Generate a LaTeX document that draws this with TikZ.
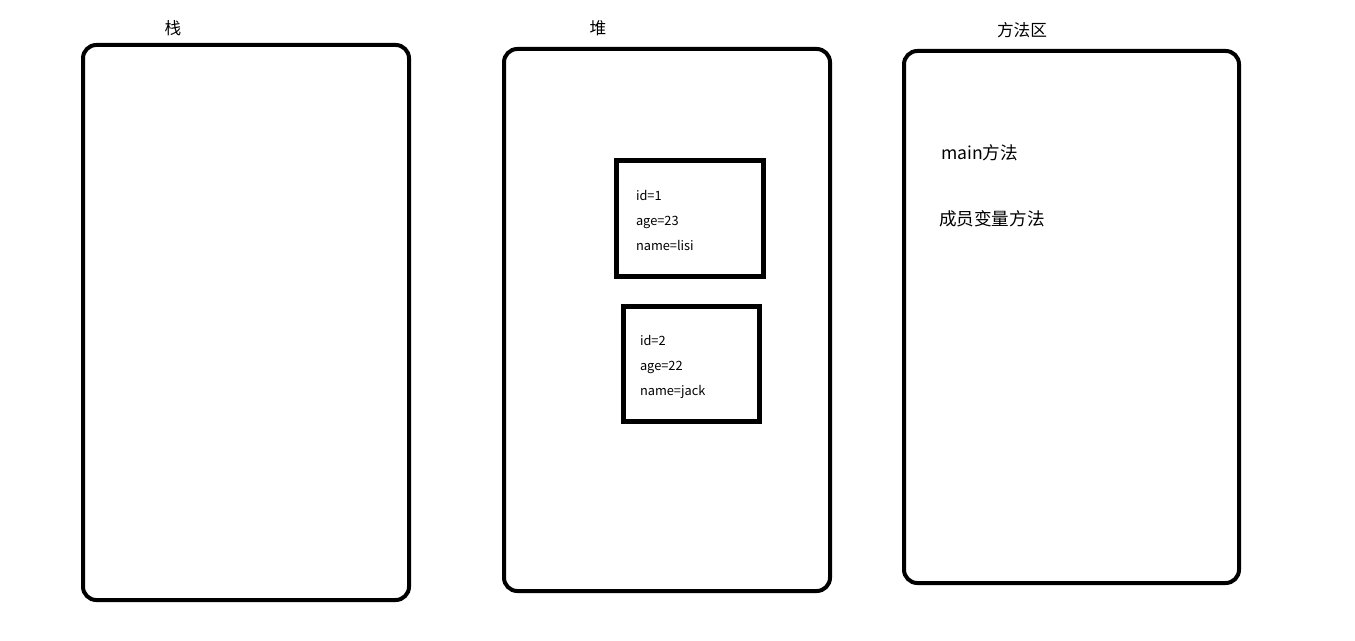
\documentclass[tikz,border=0pt]{standalone}
\usepackage{fontspec}
\setmainfont{Noto Sans CJK SC}
\usetikzlibrary{positioning}
\tikzset{
  every picture/.style={line width=3pt},
  area/.style={draw=black, rounded corners=10pt, inner sep=0pt},
  obj/.style={draw=black, line width=3.75pt, inner sep=0pt},
  title/.style={font=\fontsize{12.5}{15}\selectfont, inner sep=0pt},
  fields/.style={font=\fontsize{9.6}{18.75}\selectfont, align=left, anchor=west, inner sep=0pt},
  entry/.style={font=\fontsize{13.2}{15}\selectfont, anchor=west, inner sep=0pt},
}
\begin{document}
\begin{tikzpicture}[x=0.75pt, y=-0.75pt]
  \useasboundingbox (0,0) rectangle (1355,641);
  % the three memory areas
  \node[area, minimum width=244.5pt, minimum height=416.25pt] (stack) at (246,322.5) {};
  \node[area, minimum width=244.5pt, minimum height=406.5pt] (heap) at (667,320) {};
  \node[area, minimum width=251.25pt, minimum height=399pt] (method) at (1071.5,317) {};
  \node[title] (tstack) at (173,28) {栈};
  \node[title] (theap) at (598,28) {堆};
  \node[title] (tmethod) at (1022,30) {方法区};
  % objects on the heap
  \node[obj, minimum width=110.25pt, minimum height=87pt] (obj1) at (689.5,219) {};
  \node[fields] (f1) at (634,220) {id=1\\age=23\\name=lisi};
  \node[obj, minimum width=102pt, minimum height=85.5pt] (obj2) at (691,364) {};
  \node[fields] (f2) at (638,367) {id=2\\age=22\\name=jack};
  % method area entries
  \node[entry] (main) at (939,153) {main方法};
  \node[entry] (member) at (937,219) {成员变量方法};
\end{tikzpicture}
\end{document}
